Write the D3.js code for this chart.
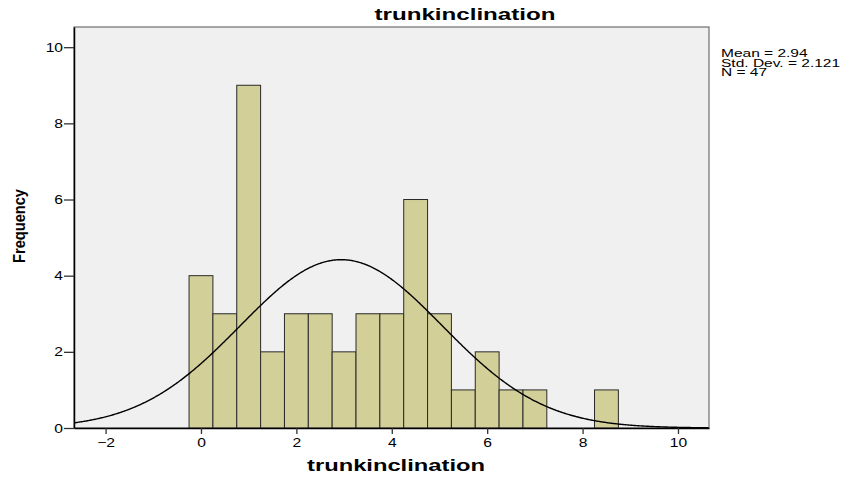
<!DOCTYPE html>
<html>
<head>
<meta charset="utf-8">
<script src="https://cdn.jsdelivr.net/npm/d3@7"></script>
<style>
  body { margin: 0; background: #fff; }
  svg { display: block; font-family: "Liberation Sans", Arial, sans-serif; }
</style>
</head>
<body>
<svg id="chart" width="851" height="477"></svg>
<script>
// Histogram bins (centre of each 0.5-wide bin) and their counts
const binCenters = [0, 0.5, 1, 1.5, 2, 2.5, 3, 3.5, 4, 4.5, 5, 5.5, 6, 6.5, 7, 7.5, 8, 8.5];
const counts     = [4, 3, 9, 2, 3, 3, 2, 3, 3, 6, 3, 1, 2, 1, 1, 0, 0, 1];
const binWidth = 0.5;

// Summary statistics
const mean = 2.94;
const stdDev = 2.121;
const n = 47;

const xTicks = [-2, 0, 2, 4, 6, 8, 10];
const yTicks = [0, 2, 4, 6, 8, 10];
const statLines = ["Mean = 2.94", "Std. Dev. = 2.121", "N = 47"];

const svg = d3.select("#chart");
const plot = { left: 74, right: 709, top: 27, bottom: 428 };

const x = d3.scaleLinear().domain([-2.662, 10.65]).range([plot.left, plot.right]);
const y = d3.scaleLinear().domain([0, 10.53]).range([plot.bottom, plot.top]);

// Widen a text element horizontally by factor k, keeping its anchor
function widen(sel, k) {
  sel.each(function () {
    const w = this.getComputedTextLength();
    d3.select(this).attr("textLength", w * k).attr("lengthAdjust", "spacingAndGlyphs");
  });
}

// Plot background and frame
svg.append("rect")
  .attr("x", plot.left).attr("y", plot.top)
  .attr("width", plot.right - plot.left).attr("height", plot.bottom - plot.top)
  .attr("fill", "#f0f0f0")
  .attr("stroke", "#6e6e6e").attr("stroke-width", 1.2);

// Bars
svg.append("g").selectAll("rect")
  .data(binCenters.map((c, i) => ({ c, v: counts[i] })).filter(d => d.v > 0))
  .join("rect")
  .attr("x", d => x(d.c - binWidth / 2))
  .attr("y", d => y(d.v))
  .attr("width", d => x(d.c + binWidth / 2) - x(d.c - binWidth / 2))
  .attr("height", d => y(0) - y(d.v))
  .attr("fill", "#d3cf99")
  .attr("stroke", "#2a2a2a").attr("stroke-width", 1);

// Normal curve scaled to counts
const pdf = v => Math.exp(-0.5 * ((v - mean) / stdDev) ** 2) / (stdDev * Math.sqrt(2 * Math.PI));
const curvePts = d3.range(x.domain()[0], x.domain()[1] + 1e-9, 0.02).map(v => [v, n * binWidth * pdf(v)]);
svg.append("path")
  .datum(curvePts)
  .attr("fill", "none")
  .attr("stroke", "#000").attr("stroke-width", 1.4)
  .attr("d", d3.line().x(d => x(d[0])).y(d => y(d[1])).curve(d3.curveBasis));

// Axes
const xAxis = svg.append("g")
  .attr("transform", `translate(0,${plot.bottom})`)
  .call(d3.axisBottom(x).tickValues(xTicks).tickSize(6).tickSizeOuter(0).tickPadding(4));
const yAxis = svg.append("g")
  .attr("transform", `translate(${plot.left},0)`)
  .call(d3.axisLeft(y).tickValues(yTicks).tickSize(10).tickSizeOuter(0).tickPadding(1));
[xAxis, yAxis].forEach(g => {
  g.select(".domain").attr("stroke", "#000").attr("stroke-width", 1.5);
  g.selectAll(".tick line").attr("stroke", "#333").attr("stroke-width", 1.3);
  g.selectAll(".tick text").attr("fill", "#000")
    .style("font-family", "'Liberation Sans', Arial, sans-serif").style("font-size", "12.5px")
    .call(widen, 1.25);
});

// Title and axis labels
svg.append("text")
  .attr("x", 465).attr("y", 20)
  .attr("text-anchor", "middle")
  .attr("textLength", 181).attr("lengthAdjust", "spacingAndGlyphs")
  .style("font-weight", "bold").style("font-size", "16px")
  .text("trunkinclination");

svg.append("text")
  .attr("x", 396).attr("y", 471)
  .attr("text-anchor", "middle")
  .attr("textLength", 178).attr("lengthAdjust", "spacingAndGlyphs")
  .style("font-weight", "bold").style("font-size", "16px")
  .text("trunkinclination");

svg.append("text")
  .attr("transform", "translate(25,226) rotate(-90)")
  .attr("text-anchor", "middle")
  .attr("textLength", 74).attr("lengthAdjust", "spacingAndGlyphs")
  .style("font-weight", "bold").style("font-size", "16px")
  .text("Frequency");

// Summary statistics block
svg.append("g").selectAll("text")
  .data(statLines)
  .join("text")
  .attr("x", 721)
  .attr("y", (d, i) => 57 + i * 9.6)
  .style("font-size", "10px")
  .text(d => d)
  .call(widen, 1.55);
</script>
</body>
</html>
